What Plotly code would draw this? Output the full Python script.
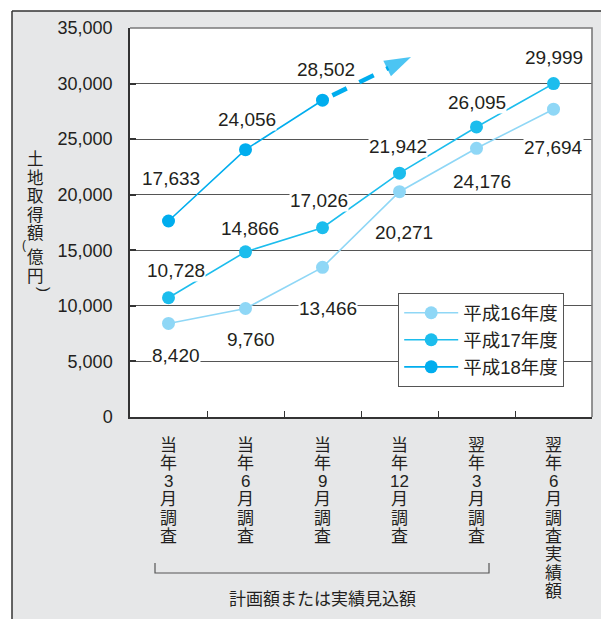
import re
import plotly.graph_objects as go

# ---- data -------------------------------------------------------------
periods = ["当年3月調査", "当年6月調査", "当年9月調査", "当年12月調査", "翌年3月調査", "翌年6月調査実績額"]
series_names = ["平成16年度", "平成17年度", "平成18年度"]
h16 = [8420, 9760, 13466, 20271, 24176, 27694]
h17 = [10728, 14866, 17026, 21942, 26095, 29999]
h18 = [17633, 24056, 28502]
y_ticks = [0, 5000, 10000, 15000, 20000, 25000, 30000, 35000]
bracket_caption = "計画額または実績見込額"
# projected continuation of 平成18年度 (x position, value at arrow tip)
arrow_tip = (3.15, 32400)

# ---- styling ----------------------------------------------------------
colors = ["#8FD7F6", "#1CBDED", "#00ADEE"]
TXT = "#231F20"
FONT = "Liberation Sans, Arial, Noto Sans CJK JP, sans-serif"

# label offsets (dx, dy) in px relative to the marker, dy positive = below
offs = [
    [(7, 32), (5, 31), (5, 41), (4, 41), (5.5, 33), (0, 38)],
    [(7.5, -27), (4.5, -23), (-4, -27), (-1.5, -27), (0, -24.5), (0, -26)],
    [(2.5, -42.5), (1.5, -30), (3.5, -31)],
]

# plot area in page pixels
Wp, Hp = 601, 619
L, R, T, B = 130, 592, 28, 417
W, H = R - L, B - T


def fx(px):
    return (px - L) / W


def fy(py):
    return (B - py) / H


fig = go.Figure()

# dashed projection arrow (drawn first so the circle marker sits on top)
fig.add_trace(go.Scatter(
    x=[2, arrow_tip[0]], y=[h18[2], arrow_tip[1]],
    mode="lines+markers",
    line=dict(color=colors[2], width=4.5, dash="0px,11px,16px,3px"),
    marker=dict(size=[0, 28], symbol="arrow", angleref="previous",
                color=colors[2], line=dict(width=0)),
    showlegend=False, hoverinfo="skip", cliponaxis=False,
))

for name, vals, col in zip(series_names, [h16, h17, h18], colors):
    fig.add_trace(go.Scatter(
        x=list(range(len(vals))), y=vals, name=name,
        mode="lines+markers",
        line=dict(color=col, width=1.6),
        marker=dict(size=13, color=col, line=dict(width=0)),
        legendgroup=name, cliponaxis=False,
    ))

annotations = []
# value labels
for vals, off in zip([h16, h17, h18], offs):
    for i, (v, (dx, dy)) in enumerate(zip(vals, off)):
        annotations.append(dict(
            x=i, y=v, xref="x", yref="y", text=f"{v:,}", showarrow=False,
            xshift=dx, yshift=-dy, bgcolor="white", borderpad=0,
            font=dict(family=FONT, size=19, color=TXT),
        ))

# vertical category labels, one row per character (digits kept together)
row_step = 18.3
for i, lab in enumerate(periods):
    for j, piece in enumerate(re.findall(r"\d+|.", lab)):
        annotations.append(dict(
            x=i, y=0, xref="x", yref="paper", text=piece, showarrow=False,
            yanchor="middle", yshift=-(28 + j * row_step),
            font=dict(family=FONT, size=17, color=TXT),
        ))

# vertical axis title 土地取得額（億円）
title_rows = [("土", 159), ("地", 177.5), ("取", 196), ("得", 214.5), ("額", 233),
              ("億", 257), ("円", 275.5)]
for ch, ypx in title_rows:
    annotations.append(dict(
        x=fx(35), y=fy(ypx), xref="paper", yref="paper", text=ch,
        showarrow=False, xanchor="center", yanchor="middle", borderpad=0,
        font=dict(family=FONT, size=16.5, color=TXT),
    ))
annotations.append(dict(x=fx(21), y=fy(245), xref="paper", yref="paper", text="(",
                        showarrow=False, borderpad=0,
                        font=dict(family=FONT, size=12, color=TXT)))
annotations.append(dict(x=fx(35), y=fy(293), xref="paper", yref="paper", text=")",
                        textangle=90, showarrow=False, borderpad=0,
                        font=dict(family=FONT, size=15, color=TXT)))

# caption under the bracket
annotations.append(dict(
    x=2, y=fy(599), xref="x", yref="paper", text=bracket_caption, showarrow=False,
    yanchor="middle", font=dict(family=FONT, size=17, color=TXT),
))

shapes = [
    # white margin outside the grey frame
    dict(type="rect", xref="paper", yref="paper", x0=fx(-5), x1=fx(Wp + 5),
         y0=fy(11), y1=fy(-5), fillcolor="white", line=dict(width=0), layer="below"),
    dict(type="rect", xref="paper", yref="paper", x0=fx(-5), x1=fx(12),
         y0=fy(Hp + 5), y1=fy(-5), fillcolor="white", line=dict(width=0), layer="below"),
    # frame lines
    dict(type="line", xref="paper", yref="paper", x0=fx(12), x1=fx(Wp + 5),
         y0=fy(11), y1=fy(11), line=dict(color="#333333", width=1.5)),
    dict(type="line", xref="paper", yref="paper", x0=fx(12), x1=fx(12),
         y0=fy(11), y1=fy(Hp + 5), line=dict(color="#333333", width=1.5)),
    # top / right border of the plot area
    dict(type="path", xref="paper", yref="paper", path="M0,1 L1,1 L1,0",
         line=dict(color="#7A7A7A", width=1.6), layer="above"),
    # bracket grouping the first five surveys
    dict(type="path", xref="paper", yref="paper",
         path=f"M{fx(155)},{fy(563)} L{fx(155)},{fy(573)} L{fx(489)},{fy(573)} L{fx(489)},{fy(563)}",
         line=dict(color="#555555", width=1.2)),
]

fig.update_layout(
    width=Wp, height=Hp,
    margin=dict(l=L, r=Wp - R, t=T, b=Hp - B, pad=0),
    paper_bgcolor="#E6E7E8", plot_bgcolor="white",
    showlegend=True,
    legend=dict(
        x=fx(398), y=fy(293), xanchor="left", yanchor="top",
        bgcolor="white", bordercolor="#555555", borderwidth=1.2,
        font=dict(family=FONT, size=18.5, color=TXT),
        tracegroupgap=0, itemwidth=54,
    ),
    xaxis=dict(
        range=[-0.5, 5.5], showgrid=False, zeroline=False,
        tickvals=[0.5, 1.5, 2.5, 3.5, 4.5], ticks="inside", ticklen=6,
        tickcolor="#333333", tickwidth=1.3, showticklabels=False,
        showline=True, linecolor="#333333", linewidth=1.5,
    ),
    yaxis=dict(
        range=[0, 35000], tickvals=y_ticks, ticktext=[f"{v:,}" for v in y_ticks],
        showgrid=True, gridcolor="#555555", gridwidth=1.1, zeroline=False,
        ticks="inside", ticklen=6, tickcolor="#333333", tickwidth=1.5,
        showline=True, linecolor="#333333", linewidth=1.5,
        tickfont=dict(family=FONT, size=18, color=TXT), ticklabelstandoff=12,
    ),
    annotations=annotations,
    shapes=shapes,
)

fig.write_html("out.html")
